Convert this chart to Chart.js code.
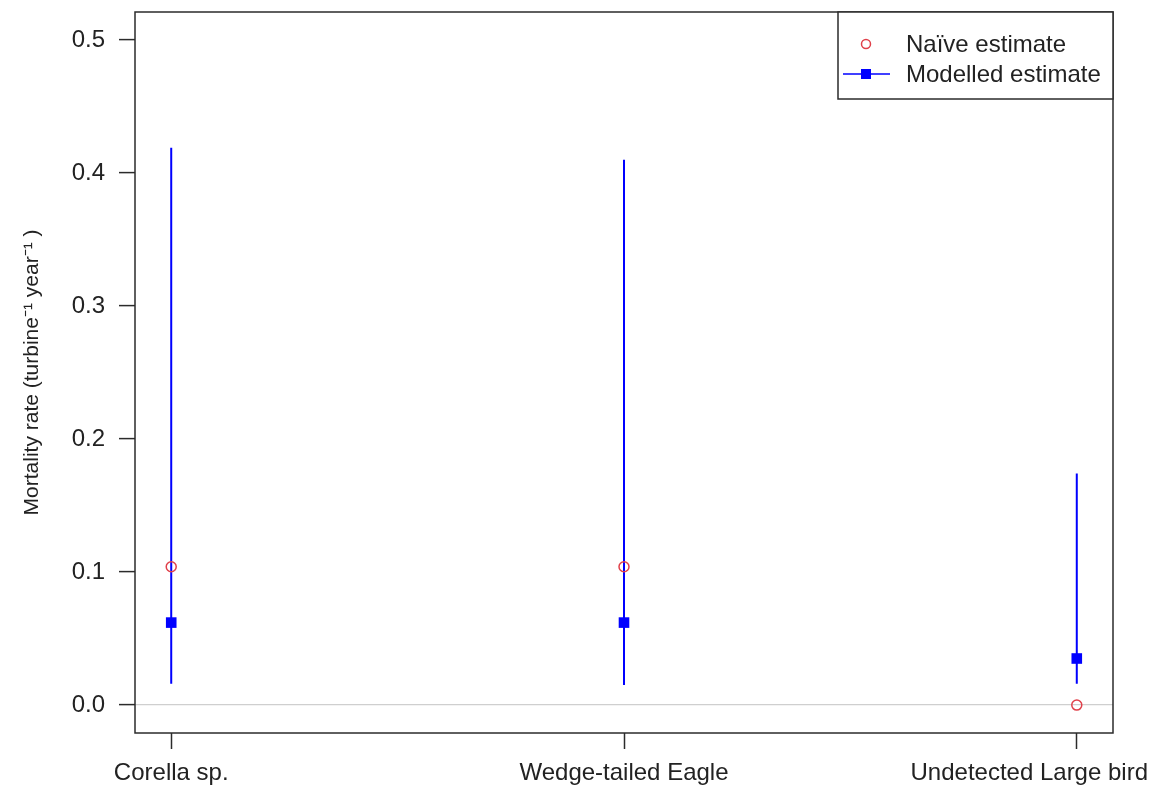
<!DOCTYPE html>
<html>
<head>
<meta charset="utf-8">
<script src="https://cdn.jsdelivr.net/npm/chart.js@4/dist/chart.umd.min.js"></script>
<style>
  html, body { margin: 0; padding: 0; background: #fff; }
  #wrap { width: 1154px; height: 792px; }
</style>
</head>
<body>
<div id="wrap"><canvas id="mortChart" width="1154" height="792"></canvas></div>
<script>
// species on the x axis
const categories = ['Corella sp.', 'Wedge-tailed Eagle', 'Undetected Large bird'];
// naive estimate (red open circles)
const naiveValues = [0.104, 0.104, 0.0];
// modelled estimate + interval (blue squares and lines)
const modelledValues = [0.062, 0.062, 0.035];
const lowerValues = [0.016, 0.015, 0.016];
const upperValues = [0.419, 0.410, 0.174];
const yTicks = [0, 0.1, 0.2, 0.3, 0.4, 0.5];
const legendLabels = ['Naïve estimate', 'Modelled estimate'];

const FONT = "'Liberation Sans', Arial, sans-serif";
const TEXT = '#222';
const RED = '#e0404a';
const BLUE = '#0000ff';

// interval lines, broken by nulls between species
const intervalData = [];
categories.forEach((c, i) => {
    intervalData.push({ x: i + 1, y: lowerValues[i] });
    intervalData.push({ x: i + 1, y: upperValues[i] });
    intervalData.push({ x: i + 1, y: null });
});

// stop chart.js from reserving room for the overhanging tick labels
function noPadding(axis) {
    axis.paddingLeft = 0;
    axis.paddingRight = 0;
    axis.paddingTop = 0;
    axis.paddingBottom = 0;
}

const boxAndLegend = {
    id: 'boxAndLegend',
    afterDatasetsDraw(chart) {
        const { ctx, chartArea: a } = chart;
        const xScale = chart.scales.x;
        ctx.save();
        // plot frame
        ctx.strokeStyle = '#2b2b2b';
        ctx.lineWidth = 1.5;
        ctx.strokeRect(a.left, a.top, a.right - a.left, a.bottom - a.top);

        // category labels, kept inside the canvas like the original
        ctx.font = '24px ' + FONT;
        ctx.fillStyle = TEXT;
        ctx.textBaseline = 'top';
        ctx.textAlign = 'center';
        categories.forEach((c, i) => {
            const w = ctx.measureText(c).width;
            let x = xScale.getPixelForValue(i + 1);
            x = Math.min(x, chart.width - 6 - w / 2);
            ctx.fillText(c, x, a.bottom + 28);
        });

        // legend in the top right corner
        const lx = 838, ly = a.top, lw = a.right - 838, lh = 87;
        ctx.fillStyle = '#fff';
        ctx.fillRect(lx, ly, lw, lh);
        ctx.strokeRect(lx, ly, lw, lh);

        ctx.fillStyle = TEXT;
        ctx.textBaseline = 'middle';
        ctx.textAlign = 'left';
        ctx.fillText(legendLabels[0], 906, ly + 33);
        ctx.fillText(legendLabels[1], 906, ly + 63);

        ctx.strokeStyle = RED;
        ctx.lineWidth = 1.5;
        ctx.beginPath();
        ctx.arc(866, ly + 32, 4.5, 0, Math.PI * 2);
        ctx.stroke();

        ctx.strokeStyle = BLUE;
        ctx.lineWidth = 1.5;
        ctx.beginPath();
        ctx.moveTo(843, ly + 62);
        ctx.lineTo(890, ly + 62);
        ctx.stroke();
        ctx.fillStyle = BLUE;
        ctx.fillRect(861, ly + 57, 10, 10);
        ctx.restore();
    }
};

const ctx = document.getElementById('mortChart').getContext('2d');
new Chart(ctx, {
    type: 'scatter',
    data: {
        datasets: [{
            label: 'interval',
            type: 'line',
            data: intervalData,
            borderColor: BLUE,
            borderWidth: 2,
            pointRadius: 0,
            spanGaps: false,
            order: 2
        }, {
            label: legendLabels[0],
            data: naiveValues.map((v, i) => ({ x: i + 1, y: v })),
            pointStyle: 'circle',
            pointRadius: 5,
            borderColor: RED,
            borderWidth: 1.5,
            backgroundColor: 'rgba(0,0,0,0)',
            order: 1
        }, {
            label: legendLabels[1],
            data: modelledValues.map((v, i) => ({ x: i + 1, y: v })),
            pointStyle: 'rect',
            pointRadius: 7.5,
            borderWidth: 0,
            borderColor: BLUE,
            backgroundColor: BLUE,
            order: 0
        }]
    },
    options: {
        responsive: false,
        animation: false,
        layout: { padding: { top: 12, right: 41, left: 0, bottom: 0 } },
        plugins: {
            legend: { display: false },
            tooltip: { enabled: false }
        },
        scales: {
            x: {
                type: 'linear',
                min: 0.92,
                max: 3.08,
                afterBuildTicks: axis => { axis.ticks = categories.map((c, i) => ({ value: i + 1 })); },
                afterFit: axis => { axis.height = 59; noPadding(axis); },
                ticks: { display: false },
                grid: {
                    drawOnChartArea: false,
                    tickLength: 16,
                    tickColor: '#2b2b2b',
                    tickWidth: 1.5
                },
                border: { display: false }
            },
            y: {
                min: -0.021,
                max: 0.521,
                afterBuildTicks: axis => { axis.ticks = yTicks.map(v => ({ value: v })); },
                afterFit: axis => { axis.width = 135; noPadding(axis); },
                ticks: {
                    callback: v => v.toFixed(1),
                    font: { family: FONT, size: 24 },
                    color: TEXT,
                    padding: 14
                },
                grid: {
                    color: c => (c.tick && c.tick.value === 0) ? '#cfcfcf' : 'rgba(0,0,0,0)',
                    lineWidth: 1.2,
                    tickLength: 16,
                    tickColor: '#2b2b2b',
                    tickWidth: 1.5
                },
                border: { display: false },
                title: {
                    display: true,
                    text: 'Mortality rate (turbine⁻¹ year⁻¹ )',
                    font: { family: FONT, size: 21 },
                    color: TEXT,
                    padding: { top: 20, bottom: 0 }
                }
            }
        }
    },
    plugins: [boxAndLegend]
});
</script>
</body>
</html>
